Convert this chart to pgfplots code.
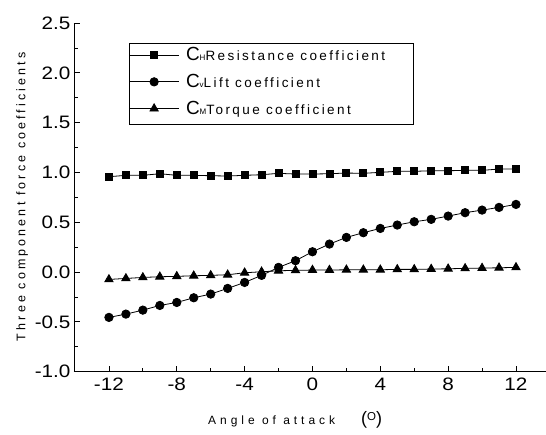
\documentclass[border=0pt]{standalone}
\usepackage{fontspec}
\setmainfont{Liberation Sans}
\newfontfamily\tickfont[FakeStretch=1.15]{Liberation Sans}
\newfontfamily\lsfont[LetterSpace=18]{Liberation Sans}
\newfontfamily\ylfont[LetterSpace=25]{Liberation Sans}
\newfontfamily\xlfont[LetterSpace=33]{Liberation Sans}
\usepackage{pgfplots}
\pgfplotsset{compat=1.18}

% legend text: C, small subscript letter, letter-spaced name
\newcommand\legC[2]{\mbox{\hspace*{7pt}{\fontsize{19}{19}\selectfont C}{\fontsize{8}{8}\selectfont #1}{\fontsize{13.5}{14}\lsfont #2}}}

\begin{document}
\begin{tikzpicture}
\begin{axis}[
  scale only axis,
  width=471.5pt, height=348.7pt,
  xmin=-14.06, xmax=13.74,
  ymin=-1, ymax=2.5,
  axis x line*=bottom, axis y line*=left,
  axis line style={line width=0.9pt},
  xtick={-12,-8,...,12},
  minor xtick={-10,-6,...,10},
  ytick={-1,-0.5,...,2.5},
  minor ytick={-0.75,-0.25,...,2.25},
  tick align=inside,
  major tick length=6pt, minor tick length=3.5pt,
  every tick/.style={black, line width=0.8pt},
  /pgf/number format/assume math mode=true,
  tick label style={font=\fontsize{18}{18}\tickfont},
  yticklabel style={/pgf/number format/.cd,fixed,fixed zerofill,precision=1},
  xticklabel style={yshift=-3pt},
  xlabel={{\fontsize{12}{13}\xlfont Angle of attack}\hspace{26pt}{\fontsize{18}{18}\selectfont(\raisebox{4pt}{\fontsize{11.5}{11.5}\selectfont O})}},
  xlabel style={at={(axis description cs:0.469,-0.1385)}, anchor=center},
  ylabel={\fontsize{12.5}{13}\ylfont Three component force coefficients},
  ylabel style={at={(axis description cs:-0.110,0.502)}, anchor=center},
  legend image code/.code={\draw[mark repeat=2,mark phase=2] plot coordinates {(0pt,0pt) (24.5pt,0pt) (49pt,0pt)};},
  legend cell align=left,
  legend style={at={(0.1167,0.9426)}, anchor=north west, draw=none, fill=none,
    inner xsep=0pt, inner ysep=1.5pt, row sep=6pt,
    nodes={inner xsep=0pt, inner ysep=3pt}},
]
\addplot[black, line width=0.8pt, mark=square*, mark size=3.5pt] coordinates {
(-12,0.957) (-11,0.971) (-10,0.971) (-9,0.987) (-8,0.971) (-7,0.971) (-6,0.967) (-5,0.964) (-4,0.971)
(-3,0.977) (-2,0.991) (-1,0.984) (0,0.984) (1,0.987) (2,0.994) (3,0.991) (4,1.001) (5,1.011)
(6,1.011) (7,1.017) (8,1.017) (9,1.021) (10,1.021) (11,1.034) (12,1.034)};
\addlegendentry{\legC{H}{Resistance coefficient}}
\addplot[black, line width=0.8pt, mark=*, mark size=4.2pt] coordinates {
(-12,-0.455) (-11,-0.422) (-10,-0.382) (-9,-0.335) (-8,-0.305) (-7,-0.258) (-6,-0.221) (-5,-0.164) (-4,-0.104)
(-3,-0.033) (-2,0.047) (-1,0.114) (0,0.204) (1,0.281) (2,0.348) (3,0.395) (4,0.438) (5,0.472)
(6,0.505) (7,0.529) (8,0.562) (9,0.596) (10,0.622) (11,0.649) (12,0.679)};
\addlegendentry{\legC{v}{Lift coefficient}}
\addplot[black, line width=0.8pt, mark=triangle*, mark size=4.8pt] coordinates {
(-12,-0.074) (-11,-0.064) (-10,-0.054) (-9,-0.047) (-8,-0.043) (-7,-0.037) (-6,-0.033) (-5,-0.027) (-4,-0.007)
(-3,0.003) (-2,0.013) (-1,0.017) (0,0.020) (1,0.020) (2,0.023) (3,0.023) (4,0.023) (5,0.027)
(6,0.027) (7,0.030) (8,0.033) (9,0.037) (10,0.040) (11,0.043) (12,0.047)};
\addlegendentry{\legC{M}{Torque coefficient}}
% legend frame
\draw[line width=0.8pt] (axis description cs:0.1167,0.7104) rectangle (axis description cs:0.719,0.9426);
\end{axis}
\pgfresetboundingbox
\path[use as bounding box] (-74pt,-63.3pt) rectangle (472pt,371.7pt);
\end{tikzpicture}
\end{document}
